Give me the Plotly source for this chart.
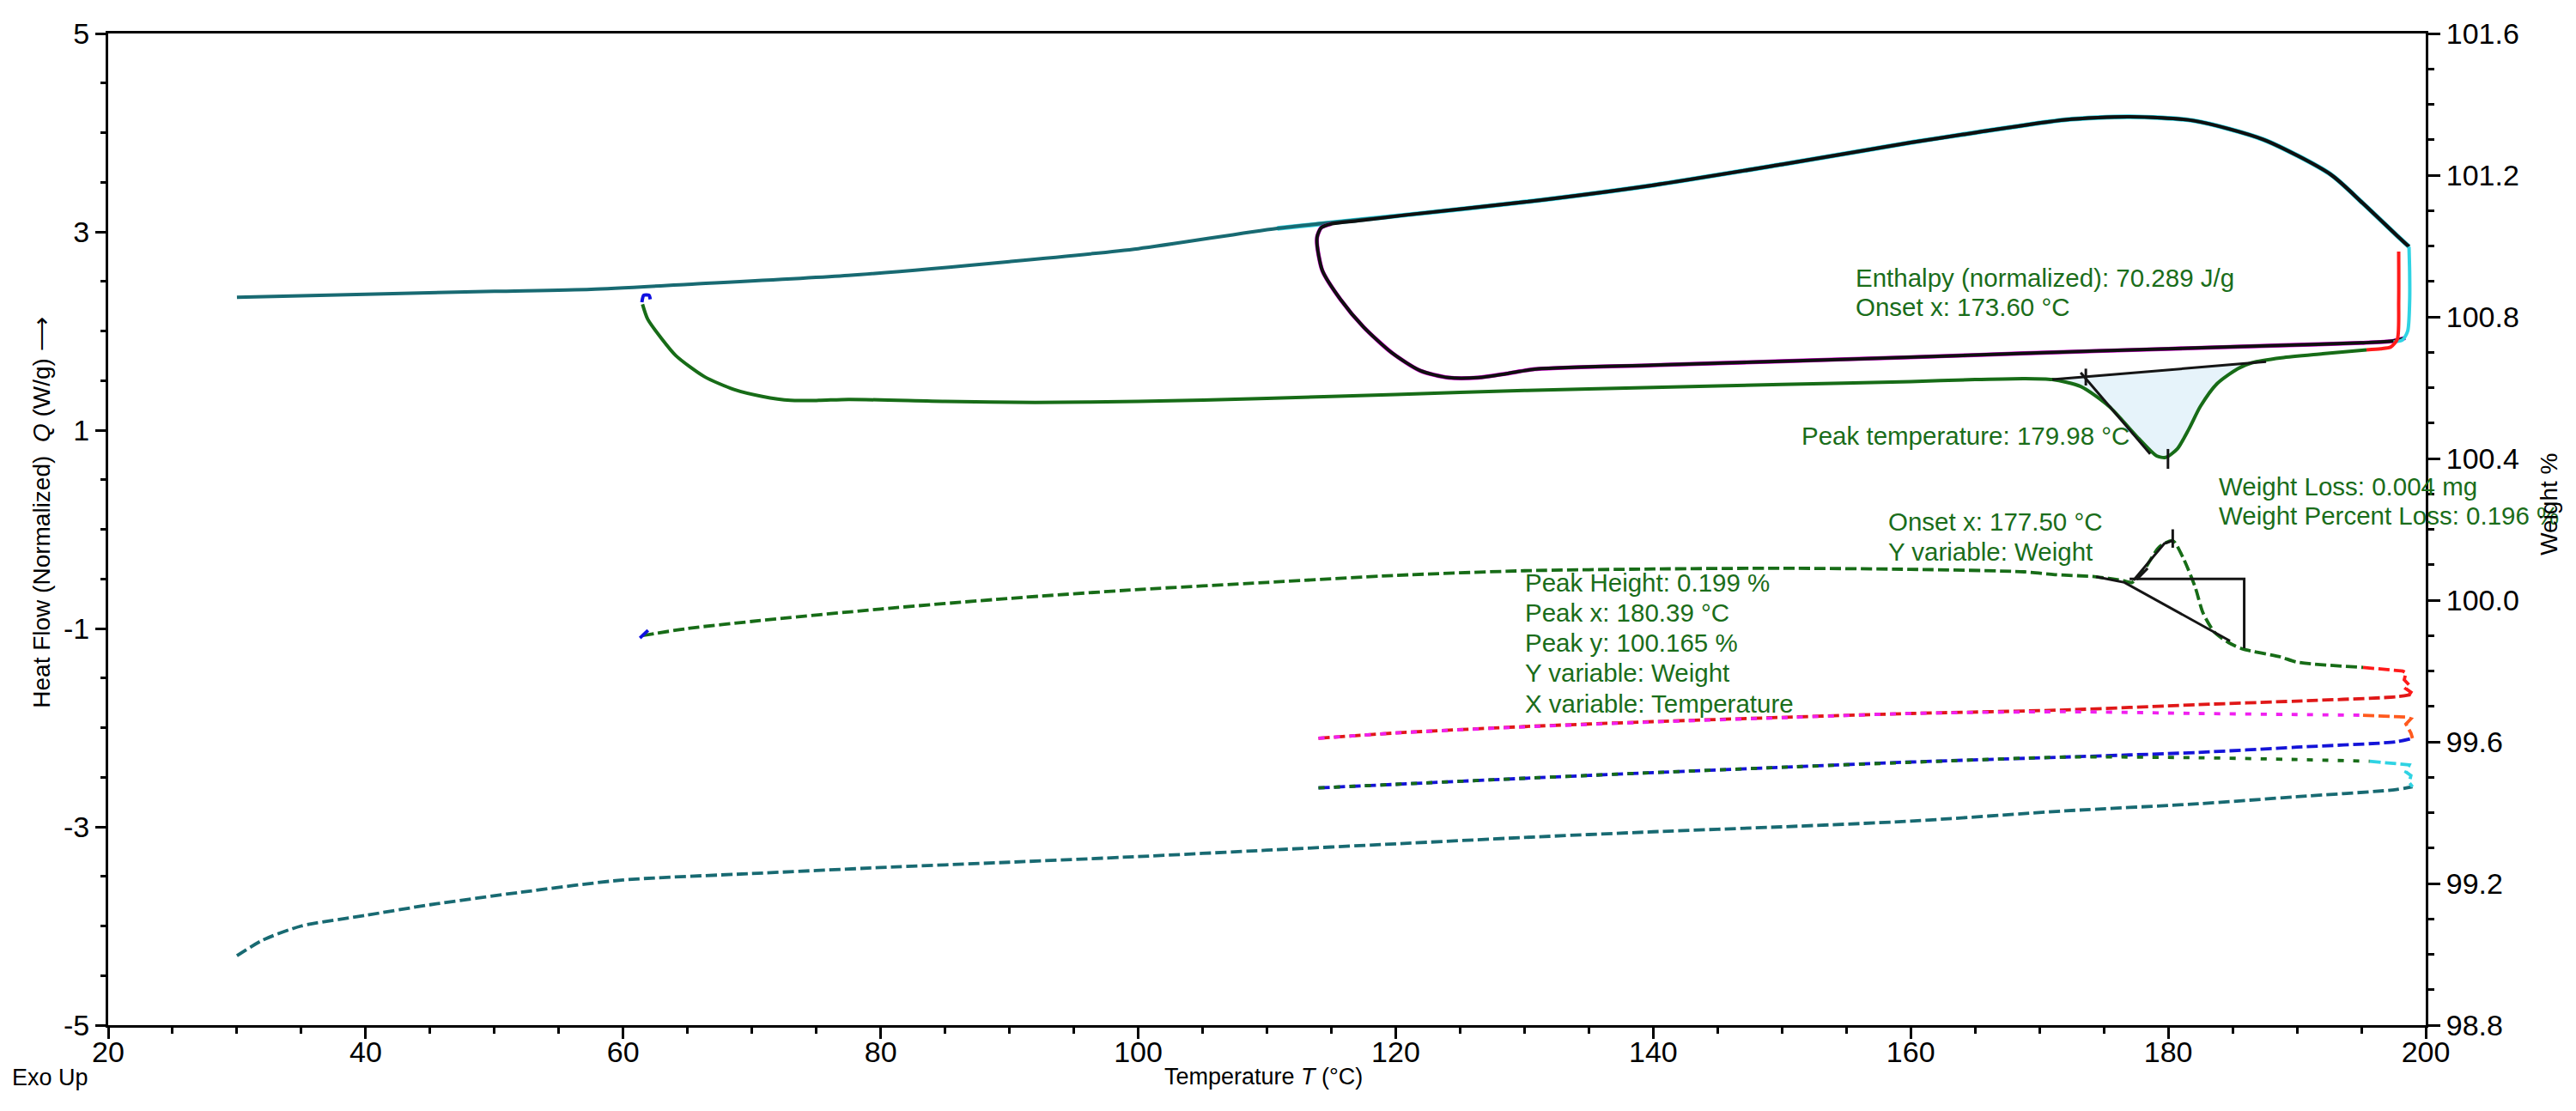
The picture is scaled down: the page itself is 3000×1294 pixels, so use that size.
import plotly.graph_objects as go

# ---- heat flow curves (T in degC, Q in W/g) ----
teal_T = [30, 40, 50, 57.5, 65, 77.5, 90, 100, 110.8, 120.8, 130, 140, 150, 160, 165, 172, 177, 182, 187.4, 192.6, 195.1, 197.7, 198.7]
teal_Q = [2.34, 2.37, 2.40, 2.42, 2.47, 2.56, 2.70, 2.83, 3.035, 3.17, 3.30, 3.47, 3.68, 3.90, 4.00, 4.13, 4.16, 4.12, 3.93, 3.58, 3.29, 2.97, 2.85]

loop_T = [198.7, 197.7, 195.1, 192.6, 187.4, 182, 177, 172, 165, 160, 150, 140, 130, 120.8, 117, 115, 114.2, 113.9, 113.9, 114.3, 115.7,
          117.5, 119.7, 121.9, 124.1, 126.4, 128.6, 130.8, 140, 150, 160, 168.8, 180, 188.8, 195, 197.5, 198.4]
loop_Q = [2.85, 2.97, 3.29, 3.58, 3.93, 4.12, 4.16, 4.13, 4.00, 3.90, 3.68, 3.47, 3.30, 3.17, 3.11, 3.08, 3.04, 2.95, 2.86, 2.61, 2.32,
          2.04, 1.78, 1.60, 1.53, 1.53, 1.57, 1.615, 1.655, 1.695, 1.735, 1.775, 1.82, 1.855, 1.88, 1.90, 1.93]

cyan_T = [198.7, 198.75, 198.75, 198.6, 198.2, 197.5]
cyan_Q = [2.85, 2.60, 2.30, 2.00, 1.91, 1.89]

green_T = [61.5, 61.9, 63.0, 64.1, 66.3, 68.6, 70.8, 73.0, 75.2, 77.5, 85, 92, 100, 110, 120, 130, 140, 150, 160, 165, 168.8, 171.0,
           173.2, 175.4, 177.6, 179.1, 179.8, 180.7, 181.6, 182.5, 183.8, 185.4, 186.5, 188.8, 192.0, 195.4]
green_Q = [2.27, 2.12, 1.92, 1.75, 1.54, 1.41, 1.34, 1.30, 1.30, 1.31, 1.29, 1.28, 1.29, 1.32, 1.36, 1.40, 1.43, 1.46, 1.49, 1.51, 1.52, 1.51,
           1.44, 1.24, 0.93, 0.74, 0.725, 0.81, 1.01, 1.24, 1.47, 1.62, 1.68, 1.73, 1.77, 1.81]

red_T = [195.4, 196.5, 197.3, 197.8, 197.9, 197.9]
red_Q = [1.81, 1.82, 1.84, 1.92, 2.30, 2.80]

hook_T = [61.45, 61.6, 62.0, 62.1]
hook_Q = [2.29, 2.36, 2.36, 2.32]

# peak integration (baseline, tangent, ticks)
base_T = [171.0, 187.6]
base_Q = [1.51, 1.69]
tan_T = [173.2, 178.6]
tan_Q = [1.58, 0.76]
onset_tick_T = [173.6, 173.6]
onset_tick_Q = [1.62, 1.45]
peak_tick_T = [179.98, 179.98]
peak_tick_Q = [0.81, 0.61]

# ---- weight curves (T in degC, W in %) ----
tealw_T = [30, 32, 35, 40, 45, 52, 60, 70, 80, 90, 100, 110, 120, 130, 140, 150, 160, 172, 182.3, 190, 197.7, 198.97]
tealw_W = [98.996, 99.04, 99.08, 99.11, 99.14, 99.175, 99.21, 99.228, 99.245, 99.26, 99.276, 99.294, 99.312, 99.33, 99.346, 99.36,
           99.376, 99.405, 99.425, 99.445, 99.465, 99.473]

cyanw_T = [195.64, 198.72, 198.46, 198.85, 198.72, 198.97]
cyanw_W = [99.545, 99.535, 99.515, 99.505, 99.485, 99.473]

greenlow_T = [114, 120, 130, 140, 150, 160, 172, 182.3, 190, 195.64]
greenlow_W = [99.47, 99.48, 99.497, 99.513, 99.528, 99.542, 99.557, 99.555, 99.55, 99.545]

blue_T = [114, 120, 130, 140, 150, 160, 172, 182.3, 190, 197.69, 198.97]
blue_W = [99.47, 99.48, 99.497, 99.513, 99.528, 99.543, 99.557, 99.57, 99.585, 99.60, 99.61]

orange_T = [195.13, 198.46, 198.85, 198.46, 198.85, 198.97]
orange_W = [99.675, 99.67, 99.665, 99.65, 99.625, 99.61]

magenta_T = [114, 120, 130, 140, 150, 160, 172, 182.3, 190, 195.13]
magenta_W = [99.61, 99.625, 99.642, 99.656, 99.668, 99.68, 99.685, 99.68, 99.677, 99.675]

redw_T = [114, 120, 130, 140, 150, 160, 172, 182.3, 190, 197.69, 198.85]
redw_W = [99.61, 99.625, 99.643, 99.657, 99.669, 99.68, 99.69, 99.705, 99.715, 99.727, 99.733]

redsq_T = [195.13, 198.21, 198.46, 198.33, 198.72, 198.46, 198.85, 198.72]
redsq_W = [99.81, 99.80, 99.795, 99.775, 99.76, 99.75, 99.74, 99.733]

greenup_T = [61.5, 65, 70, 80, 90, 100, 110, 120, 130, 140, 150, 160, 168.8, 171.2, 174.4, 176.5, 177.2, 178.2, 179.3, 180.35,
             181.2, 182.1, 182.7, 183.6, 184.7, 185.8, 188.7, 190, 195.13]
greenup_W = [99.90, 99.92, 99.94, 99.975, 100.005, 100.03, 100.05, 100.07, 100.083, 100.088, 100.09, 100.087, 100.08, 100.072,
             100.066, 100.055, 100.05, 100.09, 100.15, 100.168, 100.116, 100.036, 99.964, 99.909, 99.88, 99.862, 99.84, 99.825, 99.81]

hookw_T = [61.3, 61.5, 62.0]
hookw_W = [99.893, 99.90, 99.917]

# weight step analysis lines
box_T = [177.0, 185.9, 185.9]
box_W = [100.06, 100.06, 99.864]
wtan_T = [174.4, 176.6, 184.8]
wtan_W = [100.066, 100.05, 99.885]
wup_T = [177.3, 179.7, 180.35]
wup_W = [100.056, 100.16, 100.168]
wup2_T = [177.55, 178.4]
wup2_W = [100.058, 100.09]
wpeak_tick_T = [180.35, 180.35]
wpeak_tick_W = [100.2, 100.148]

GREEN = "#176c17"
TXT = "#1a6d1a"
TEAL = "#186a72"
CYAN = "#2fd3e3"
DASH = "13px,5px"
DASH2 = "7px,11px"
FONT = "Liberation Sans, Arial, sans-serif"

fig = go.Figure()


def solid(x, y, color, width=4, smooth=True):
    fig.add_trace(go.Scatter(x=x, y=y, mode="lines",
                             line=dict(color=color, width=width, shape="spline" if smooth else "linear", smoothing=0.7),
                             showlegend=False, hoverinfo="skip"))


def dashed(x, y, color, width=3.8, smooth=True, dash=DASH):
    fig.add_trace(go.Scatter(x=x, y=y, yaxis="y2", mode="lines",
                             line=dict(color=color, width=width, dash=dash,
                                       shape="spline" if smooth else "linear", smoothing=0.7),
                             showlegend=False, hoverinfo="skip"))


# peak fill
pk = [i for i, t in enumerate(green_T) if base_T[0] <= t <= base_T[1]]
fill_T = [base_T[0]] + [green_T[i] for i in pk] + [base_T[1], base_T[0]]
fill_Q = [base_Q[0]] + [green_Q[i] for i in pk] + [base_Q[1], base_Q[0]]
fig.add_trace(go.Scatter(x=fill_T, y=fill_Q, mode="lines", fill="toself", fillcolor="#e6f3fa",
                         line=dict(width=0), showlegend=False, hoverinfo="skip"))

# heat flow
solid([t for t in teal_T if t >= 108], [q for t, q in zip(teal_T, teal_Q) if t >= 108], CYAN, 5.5)
solid(teal_T, teal_Q, TEAL, 4)
low = loop_T.index(115)
solid(loop_T[low:], loop_Q[low:], "#e400e4", 4.8)
solid(loop_T, loop_Q, "#101010", 4)
solid(cyan_T, cyan_Q, CYAN, 4)
solid(red_T, red_Q, "#ff1a1a", 4)
solid(green_T, green_Q, GREEN, 4)
solid(hook_T, hook_Q, "#1010e0", 4)
for xs, ys in [(base_T, base_Q), (tan_T, tan_Q), (onset_tick_T, onset_tick_Q), (peak_tick_T, peak_tick_Q)]:
    solid(xs, ys, "#151515", 3, smooth=False)

# weight
dashed(tealw_T, tealw_W, TEAL)
dashed(cyanw_T, cyanw_W, CYAN, smooth=False)
dashed(blue_T, blue_W, "#1414d8")
dashed(greenlow_T, greenlow_W, GREEN, dash=DASH2)
dashed(orange_T, orange_W, "#ff5a1e", smooth=False)
dashed(redw_T, redw_W, "#e01818")
dashed(magenta_T, magenta_W, "#f020f0", dash=DASH2)
dashed(redsq_T, redsq_W, "#ff1a1a", smooth=False)
dashed(greenup_T, greenup_W, GREEN)
dashed(hookw_T, hookw_W, "#1010e0", smooth=False)
for xs, ys in [(box_T, box_W), (wtan_T, wtan_W), (wup_T, wup_W), (wup2_T, wup2_W), (wpeak_tick_T, wpeak_tick_W)]:
    fig.add_trace(go.Scatter(x=xs, y=ys, yaxis="y2", mode="lines", line=dict(color="#151515", width=3),
                             showlegend=False, hoverinfo="skip"))

# pixel -> paper helpers (plot area 118..2817 x 17..1186)
L, R, T0, B = 118, 2817, 17, 1186


def px(x):
    return (x - L) / (R - L)


def py(y):
    return (B - y) / (B - T0)


notes = [
    ("Enthalpy (normalized): 70.289 J/g", 2151, 305),
    ("Onset x: 173.60 °C", 2151, 339),
    ("Peak temperature: 179.98 °C", 2088, 491),
    ("Weight Loss: 0.004 mg", 2574, 551),
    ("Weight Percent Loss: 0.196 %", 2574, 585),
    ("Onset x: 177.50 °C", 2189, 592),
    ("Y variable: Weight", 2189, 628),
    ("Peak Height: 0.199 %", 1766, 664),
    ("Peak x: 180.39 °C", 1766, 700),
    ("Peak y: 100.165 %", 1766, 735),
    ("Y variable: Weight", 1766, 771),
    ("X variable: Temperature", 1766, 807),
]
for txt, x, y in notes:
    fig.add_annotation(text=txt, xref="paper", yref="paper", x=px(x), y=py(y), xanchor="left", yanchor="middle",
                       align="left", showarrow=False, font=dict(family=FONT, size=29.5, color=TXT))

fig.add_annotation(text="Heat Flow (Normalized)  <i>Q</i> (W/g) ⟶", xref="paper", yref="paper",
                   x=px(23), y=py(582), textangle=-90, showarrow=False, font=dict(family=FONT, size=28, color="black"))
fig.add_annotation(text="Temperature <i>T</i> (°C)", xref="paper", yref="paper",
                   x=px(1463), y=py(1264), showarrow=False, font=dict(family=FONT, size=27, color="black"))
fig.add_annotation(text="Exo Up", xref="paper", yref="paper", x=px(4), y=py(1265),
                   xanchor="left", showarrow=False, font=dict(family=FONT, size=27, color="black"))
fig.add_annotation(text="Weight %", xref="paper", yref="paper", x=px(2978), y=py(572), textangle=-90,
                   showarrow=False, font=dict(family=FONT, size=28, color="black"))

axis_common = dict(showline=True, linecolor="black", linewidth=3, ticks="outside", tickcolor="black",
                   tickwidth=3, showgrid=False, zeroline=False, ticklabeloverflow="allow",
                   tickfont=dict(family=FONT, size=34, color="black"))

y_ticks = [-5, -3, -1, 1, 3, 5]

fig.update_layout(
    width=3000, height=1294,
    margin=dict(l=L, r=3000 - R, t=T0, b=1294 - B),
    plot_bgcolor="white", paper_bgcolor="white",
    showlegend=False,
    xaxis=dict(range=[20, 200], tick0=20, dtick=20, ticklen=13, mirror=True, ticklabelstandoff=-14,
               minor=dict(dtick=5, ticklen=7, tickwidth=2.5, ticks="outside", tickcolor="black", showgrid=False),
               **axis_common),
    yaxis=dict(range=[-5, 5], tickvals=y_ticks, ticktext=[str(v) for v in y_ticks], ticklen=12,
               minor=dict(dtick=0.5, ticklen=6, tickwidth=2.5, ticks="outside", tickcolor="black", showgrid=False),
               **axis_common),
    yaxis2=dict(range=[98.8, 101.6], tick0=98.8, dtick=0.4, tickformat=".1f", ticklen=14,
                overlaying="y", side="right",
                minor=dict(dtick=0.1, ticklen=7, tickwidth=2.5, ticks="outside", tickcolor="black", showgrid=False),
                **axis_common),
)

fig.write_html("out.html")
